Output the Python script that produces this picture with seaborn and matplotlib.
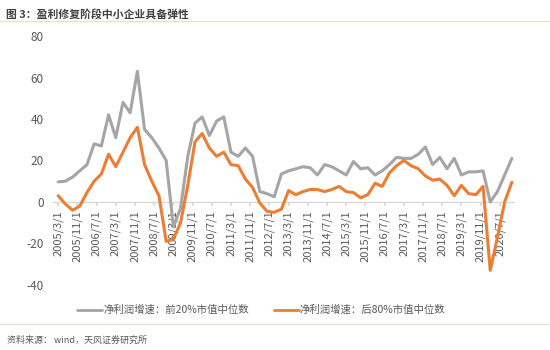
import matplotlib
matplotlib.use("Agg")
import matplotlib.pyplot as plt
import seaborn as sns
import pandas as pd
import numpy as np
from matplotlib.lines import Line2D

# ---- data (quarterly, 2005/3 .. 2020/12) ----
dates = pd.date_range("2005-03-01", "2020-12-01", freq="3MS")
top20 = [9.7, 10, 12, 15, 18, 28, 27, 42, 31, 48, 43, 63,
         35, 31, 26, 20, -12, -3, 22, 38, 41, 32, 39, 41,
         24, 22, 26, 22, 5, 4, 2.5, 13.5, 15, 16, 17, 16.5,
         13, 18, 17, 15, 13, 19.5, 16, 16.5, 13, 15, 18, 21.5,
         21, 21, 23, 26.5, 18, 21.5, 16, 21, 13, 14.5, 14.5, 15,
         0, 5, 13, 21]
bottom80 = [3, -1, -4, -2, 4.5, 10, 13.5, 23, 17, 24, 31, 36,
            18, 10, 3, -19, -18, -10, 8, 29, 33, 26, 22, 24,
            18, 17.5, 11, 7, -0.5, -4.5, -5, -3.5, 5.5, 3.5, 5, 6,
            6, 5, 6, 7.5, 5, 4.5, 2, 3.5, 9, 7.5, 14, 17.5,
            20, 17.5, 16, 12.5, 10.5, 11, 8, 3, 8, 4, 3.5, 7.5,
            -33, -17, 0, 9.5]
series_names = ["净利润增速：前20%市值中位数", "净利润增速：后80%市值中位数"]
colors = ["#A5A5A5", "#ED7D31"]
tick_dates = pd.date_range("2005-03-01", "2020-07-01", freq="8MS")
tick_labels = [f"{d.year}/{d.month}/1" for d in tick_dates]
yticks = [-40, -20, 0, 20, 40, 60, 80]

def month_index(ds):
    return [(d.year - 2005) * 12 + (d.month - 3) for d in ds]

df = pd.DataFrame({
    "m": month_index(dates) * 2,
    "v": top20 + bottom80,
    "s": [series_names[0]] * len(dates) + [series_names[1]] * len(dates),
})

sns.set_theme(style="white")
plt.rcParams["font.family"] = ["Noto Sans CJK SC", "DejaVu Sans"]

fig = plt.figure(figsize=(5.5, 3.5), dpi=100)
ax = fig.add_axes([0.097, 0.186, 0.838, 0.711])
sns.lineplot(data=df, x="m", y="v", hue="s", palette=colors, linewidth=2.2,
             ax=ax, legend=False)
for ln in ax.get_lines():
    ln.set_solid_joinstyle("round")
    ln.set_solid_capstyle("round")

ax.set_ylim(-40, 80)
ax.set_xlim(-2, 190)
ax.set_xlabel("")
ax.set_ylabel("")
ax.set_yticks(yticks)
ax.set_yticklabels([str(t) for t in yticks])
ax.set_xticks(month_index(tick_dates))
ax.set_xticklabels(tick_labels)
for sp in ["top", "right", "left"]:
    ax.spines[sp].set_visible(False)
ax.spines["bottom"].set_position(("data", 0))
ax.spines["bottom"].set_color("#D9D9D9")
ax.spines["bottom"].set_linewidth(1.0)
ax.spines["bottom"].set_zorder(0)
ax.tick_params(axis="x", length=3, color="#D9D9D9", pad=3, bottom=True,
               labelrotation=90, labelsize=8, labelcolor="#595959")
ax.tick_params(axis="y", length=0, pad=7, labelsize=8.5, labelcolor="#595959")
for lab in ax.get_xticklabels():
    lab.set_rotation(90)
    lab.set_va("top")
    lab.set_ha("center")
ax.grid(False)

handles = [Line2D([], [], color=c, linewidth=2.0) for c in colors]
fig.legend(handles, series_names, loc="center", bbox_to_anchor=(0.475, 0.114),
           ncol=2, frameon=False, fontsize=7.5, handlelength=2.4,
           handletextpad=0.1, columnspacing=2.4, labelcolor="#595959")

fig.text(0.01, 0.975, "图 3：盈利修复阶段中小企业具备弹性", fontsize=7.8,
         fontweight="bold", color="#404040", va="top", ha="left")
fig.add_artist(Line2D([0, 1], [0.94, 0.94], color="#E9E1CC", linewidth=1.0,
                      transform=fig.transFigure))
fig.add_artist(Line2D([0, 1], [0.075, 0.075], color="#E9E1CC", linewidth=1.0,
                      transform=fig.transFigure))
fig.text(0.012, 0.028, "资料来源： wind，天风证券研究所", fontsize=6.5,
         color="#595959", va="center", ha="left")

fig.savefig("out.png", dpi=100, facecolor="white")
